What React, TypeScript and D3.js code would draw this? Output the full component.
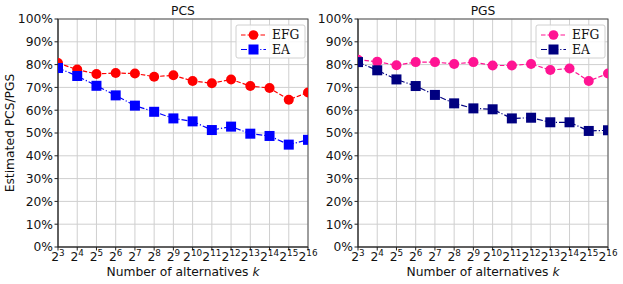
import { useEffect, useRef } from "react";
import * as d3 from "d3";

const exponents = [3, 4, 5, 6, 7, 8, 9, 10, 11, 12, 13, 14, 15, 16];
const yTicks = [0, 10, 20, 30, 40, 50, 60, 70, 80, 90, 100];

const pcsEFG = [80.7, 77.8, 75.9, 76.3, 76.1, 74.7, 75.3, 72.8, 71.8, 73.5, 70.6, 69.7, 64.6, 67.8];
const pcsEA = [78.5, 75.0, 70.7, 66.5, 62.0, 59.3, 56.4, 55.1, 51.3, 52.8, 49.7, 48.7, 44.9, 47.0];
const pgsEFG = [82.1, 81.3, 79.7, 81.1, 81.1, 80.3, 81.1, 79.6, 79.6, 80.3, 77.6, 78.3, 72.8, 76.1];
const pgsEA = [81.1, 77.5, 73.5, 70.6, 66.7, 63.0, 60.8, 60.4, 56.4, 56.7, 54.7, 54.7, 50.9, 51.2];

interface Panel {
  title: string;
  left: number;
  right: number;
  efg: number[];
  ea: number[];
  efgColor: string;
  eaColor: string;
  yLabel: boolean;
}

const panels: Panel[] = [
  { title: "PCS", left: 58, right: 308, efg: pcsEFG, ea: pcsEA, efgColor: "#ff0000", eaColor: "#0000ff", yLabel: true },
  { title: "PGS", left: 358, right: 608, efg: pgsEFG, ea: pgsEA, efgColor: "#ff1493", eaColor: "#000080", yLabel: false },
];

export default function App() {
  const svgRef = useRef<SVGSVGElement>(null);

  useEffect(() => {
    if (!svgRef.current) return;
    const svg = d3.select(svgRef.current);
    svg.selectAll("*").remove();

    const top = 19;
    const bottom = 247;
    const sans = "DejaVu Sans, sans-serif";
    const fs = "12.3px";

    const y = d3.scaleLinear().domain([0, 100]).range([bottom, top]);

    panels.forEach((p, pi) => {
      const x = d3.scaleLinear().domain([3, 16]).range([p.left, p.right]);
      const g = svg.append("g");

      const clipId = `clip${pi}`;
      svg
        .append("defs")
        .append("clipPath")
        .attr("id", clipId)
        .append("rect")
        .attr("x", p.left)
        .attr("y", top)
        .attr("width", p.right - p.left)
        .attr("height", bottom - top);

      // grid
      g.selectAll(".vg")
        .data(exponents)
        .join("line")
        .attr("x1", (d) => x(d))
        .attr("x2", (d) => x(d))
        .attr("y1", top)
        .attr("y2", bottom)
        .attr("stroke", "#cfcfcf")
        .attr("stroke-width", 1);
      g.selectAll(".hg")
        .data(yTicks)
        .join("line")
        .attr("x1", p.left)
        .attr("x2", p.right)
        .attr("y1", (d) => y(d))
        .attr("y2", (d) => y(d))
        .attr("stroke", "#cfcfcf")
        .attr("stroke-width", 1);

      // spines
      g.append("rect")
        .attr("x", p.left)
        .attr("y", top)
        .attr("width", p.right - p.left)
        .attr("height", bottom - top)
        .attr("fill", "none")
        .attr("stroke", "#555")
        .attr("stroke-width", 1);
      g.append("line")
        .attr("x1", p.left)
        .attr("x2", p.left)
        .attr("y1", top)
        .attr("y2", bottom)
        .attr("stroke", "#222");
      g.append("line")
        .attr("x1", p.left)
        .attr("x2", p.right)
        .attr("y1", bottom)
        .attr("y2", bottom)
        .attr("stroke", "#222");

      // y ticks
      yTicks.forEach((t) => {
        g.append("line")
          .attr("x1", p.left - 3.5)
          .attr("x2", p.left)
          .attr("y1", y(t))
          .attr("y2", y(t))
          .attr("stroke", "#222");
        g.append("text")
          .attr("x", p.left - 5)
          .attr("y", y(t))
          .attr("dy", "0.36em")
          .attr("text-anchor", "end")
          .style("font-family", sans)
          .style("font-size", fs)
          .attr("fill", "#111")
          .text(`${t}%`);
      });

      // x ticks
      exponents.forEach((e) => {
        g.append("line")
          .attr("x1", x(e))
          .attr("x2", x(e))
          .attr("y1", bottom)
          .attr("y2", bottom + 3.5)
          .attr("stroke", "#222");
        const t = g
          .append("text")
          .attr("x", x(e))
          .attr("y", 260.5)
          .attr("text-anchor", "middle")
          .style("font-family", sans)
          .style("font-size", fs)
          .attr("fill", "#111");
        t.append("tspan").text("2");
        t.append("tspan").attr("dy", -5).style("font-size", "8.8px").text(`${e}`);
      });

      // title
      g.append("text")
        .attr("x", (p.left + p.right) / 2)
        .attr("y", 15)
        .attr("text-anchor", "middle")
        .style("font-family", sans)
        .style("font-size", fs)
        .attr("fill", "#111")
        .text(p.title);

      // x label
      const xl = g
        .append("text")
        .attr("x", (p.left + p.right) / 2)
        .attr("y", 276)
        .attr("text-anchor", "middle")
        .style("font-family", sans)
        .style("font-size", fs)
        .attr("fill", "#111");
      xl.append("tspan").text("Number of alternatives ");
      xl.append("tspan").style("font-style", "italic").text("k");

      if (p.yLabel) {
        g.append("text")
          .attr("transform", `translate(14,${(top + bottom) / 2}) rotate(-90)`)
          .attr("text-anchor", "middle")
          .style("font-family", sans)
          .style("font-size", fs)
          .attr("fill", "#111")
          .text("Estimated PCS/PGS");
      }

      // series
      const plot = svg.append("g").attr("clip-path", `url(#${clipId})`);
      const line = d3
        .line<number>()
        .x((_, i) => x(exponents[i]))
        .y((d) => y(d));

      plot
        .append("path")
        .datum(p.efg)
        .attr("fill", "none")
        .attr("stroke", p.efgColor)
        .attr("stroke-width", 1.2)
        .attr("stroke-dasharray", "4.5,2")
        .attr("d", line);
      plot
        .selectAll(".efg")
        .data(p.efg)
        .join("circle")
        .attr("cx", (_, i) => x(exponents[i]))
        .attr("cy", (d) => y(d))
        .attr("r", 5)
        .attr("fill", p.efgColor);

      plot
        .append("path")
        .datum(p.ea)
        .attr("fill", "none")
        .attr("stroke", p.eaColor)
        .attr("stroke-width", 1.2)
        .attr("stroke-dasharray", "6,2,1.2,2")
        .attr("d", line);
      plot
        .selectAll(".ea")
        .data(p.ea)
        .join("rect")
        .attr("x", (_, i) => x(exponents[i]) - 5)
        .attr("y", (d) => y(d) - 5)
        .attr("width", 10)
        .attr("height", 10)
        .attr("fill", p.eaColor);

      // legend
      const lx = p.right - 72;
      const ly = 25;
      const legend = svg.append("g").attr("transform", `translate(${lx},${ly})`);
      legend
        .append("rect")
        .attr("x", 0)
        .attr("y", 0)
        .attr("width", 69)
        .attr("height", 33)
        .attr("rx", 2)
        .attr("fill", "#fff")
        .attr("fill-opacity", 0.85)
        .attr("stroke", "#d0d0d0");
      const items = [
        { name: "EFG", color: p.efgColor, dash: "4.5,2", shape: "circle" },
        { name: "EA", color: p.eaColor, dash: "6,2,1.2,2", shape: "square" },
      ];
      items.forEach((it, i) => {
        const cy = 10 + i * 14.5;
        legend
          .append("line")
          .attr("x1", 5)
          .attr("x2", 30)
          .attr("y1", cy)
          .attr("y2", cy)
          .attr("stroke", it.color)
          .attr("stroke-width", 1.2)
          .attr("stroke-dasharray", it.dash);
        if (it.shape === "circle") {
          legend.append("circle").attr("cx", 17.5).attr("cy", cy).attr("r", 4.8).attr("fill", it.color);
        } else {
          legend
            .append("rect")
            .attr("x", 12.5)
            .attr("y", cy - 5)
            .attr("width", 10)
            .attr("height", 10)
            .attr("fill", it.color);
        }
        legend
          .append("text")
          .attr("x", 36)
          .attr("y", cy)
          .attr("dy", "0.36em")
          .style("font-family", "DejaVu Serif, serif")
          .style("font-size", "12.3px")
          .attr("fill", "#111")
          .text(it.name);
      });
    });
  }, []);

  return (
    <svg
      ref={svgRef}
      width={623}
      height={284}
      style={{ position: "absolute", left: 0, top: 0, background: "#fff" }}
    />
  );
}
